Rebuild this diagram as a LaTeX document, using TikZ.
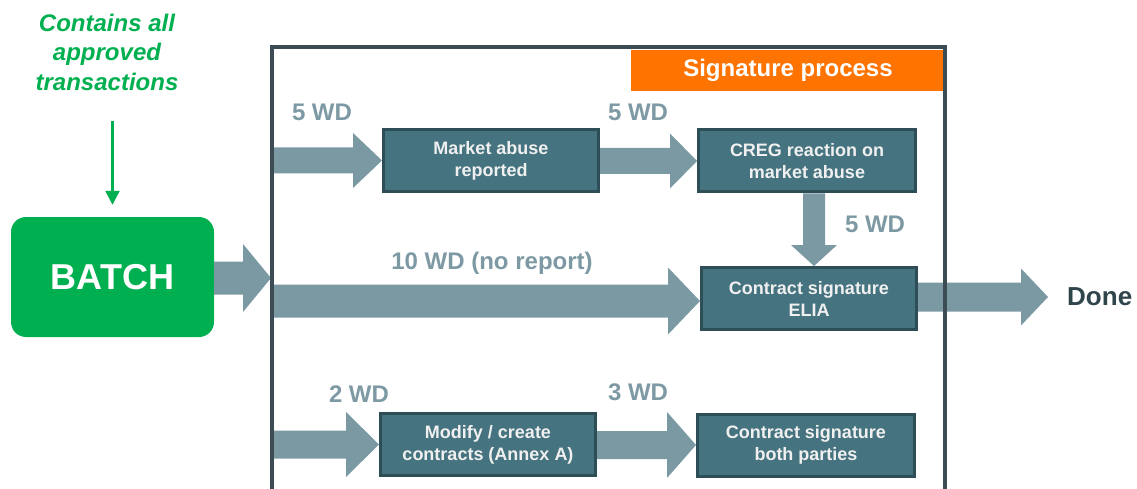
\documentclass[tikz,border=0pt]{standalone}
\usepackage{fontspec}
\setmainfont{Liberation Sans}
\usetikzlibrary{calc,arrows.meta}

\definecolor{okgreen}{RGB}{0,176,80}
\definecolor{flowgray}{RGB}{123,153,163}
\definecolor{labgray}{RGB}{125,153,164}
\definecolor{boxfill}{RGB}{69,115,127}
\definecolor{boxline}{RGB}{46,78,87}
\definecolor{framecol}{RGB}{59,76,84}
\definecolor{orangebar}{RGB}{255,115,0}
\definecolor{donecol}{RGB}{47,68,75}

% horizontal block arrow: start, end, shaft half-height, head half-height, head length
\newcommand\harrow[5]{%
  \fill[flowgray] let \p1=(#1), \p2=(#2) in
    (\x1,\y2+#3) -- (\x2-#5,\y2+#3) -- (\x2-#5,\y2+#4) -- (\x2,\y2)
    -- (\x2-#5,\y2-#4) -- (\x2-#5,\y2-#3) -- (\x1,\y2-#3) -- cycle;}
% vertical (downward) block arrow, same arguments
\newcommand\varrow[5]{%
  \fill[flowgray] let \p1=(#1), \p2=(#2) in
    (\x1-#3,\y1) -- (\x1-#3,\y2+#5) -- (\x1-#4,\y2+#5) -- (\x1,\y2)
    -- (\x1+#4,\y2+#5) -- (\x1+#3,\y2+#5) -- (\x1+#3,\y1) -- cycle;}

\tikzset{
  stepbox/.style={draw=boxline, fill=boxfill, line width=3pt,
    minimum width=215pt, minimum height=62pt, inner sep=0pt,
    align=center, text=white!94!black,
    font=\bfseries\fontsize{18}{22}\selectfont},
  wdlabel/.style={text=labgray, inner sep=0pt,
    font=\bfseries\fontsize{24}{28}\selectfont},
}

\begin{document}
\begin{tikzpicture}[x=1pt, y=-1pt]
\useasboundingbox (0,0) rectangle (1137,489);

% note and batch box
\node[text=okgreen, align=center, inner sep=0pt,
      font=\bfseries\itshape\fontsize{24}{29.5}\selectfont]
  (note) at (107,52) {Contains all\\approved\\transactions};
\node[fill=okgreen, rounded corners=15pt, minimum width=203pt,
      minimum height=120pt, inner sep=0pt, text=white,
      font=\bfseries\fontsize{36}{40}\selectfont]
  (batch) at (112.5,277) {BATCH};
\draw[okgreen, line width=2.5pt, -{Triangle[length=14pt,width=14pt]},
      shorten <=30pt, shorten >=12pt]
  (note.south -| batch.north) -- (batch.north);

% process steps
\node[stepbox] (market) at (491,160.5) {Market abuse\\reported};
\node[stepbox, minimum width=217pt] (creg) at (807,161) {CREG reaction on\\market abuse};
\node[stepbox] (elia) at (809,298.5) {Contract signature\\ELIA};
\node[stepbox] (modify) at (488,444.5) {Modify / create\\contracts (Annex A)};
\node[stepbox, minimum width=217pt] (both) at (806,445) {Contract signature\\both parties};

\node[text=donecol, inner sep=0pt, anchor=west,
      font=\bfseries\fontsize{26}{30}\selectfont] (done) at (1067,297) {Done};

% entry points on the left side of the frame
\coordinate (gate) at (271,278);
\coordinate (in1) at (272,160);
\coordinate (in2) at (272,301);
\coordinate (in3) at (272,444);

% flows
\harrow{batch.east}{gate}{16.5pt}{34pt}{28pt}
\harrow{in1}{market.west}{13pt}{27.5pt}{29pt}
\harrow{market.east}{creg.west}{13pt}{27.5pt}{27pt}
\harrow{in2}{elia.west |- in2}{16.5pt}{33.5pt}{32pt}
\varrow{[xshift=7pt]creg.south}{[xshift=7pt]elia.north}{11pt}{23pt}{21pt}
\harrow{elia.east}{[xshift=-19pt]done.west}{14.5pt}{28.5pt}{27pt}
\harrow{in3}{modify.west}{14pt}{32.5pt}{33pt}
\harrow{modify.east}{both.west}{14pt}{33pt}{29pt}

% redraw boxes above the flows
\node[stepbox] at (market) {Market abuse\\reported};
\node[stepbox, minimum width=217pt] at (creg) {CREG reaction on\\market abuse};
\node[stepbox] at (elia) {Contract signature\\ELIA};
\node[stepbox] at (modify) {Modify / create\\contracts (Annex A)};
\node[stepbox, minimum width=217pt] at (both) {Contract signature\\both parties};

% durations
\node[wdlabel] (d1) at (322,112) {5 WD};
\node[wdlabel] (d2) at (638,112) {5 WD};
\node[wdlabel] (d3) at (875,224) {5 WD};
\node[wdlabel] (d4) at (492,263) {10 WD (no report)};
\node[wdlabel] (d5) at (359,394) {2 WD};
\node[wdlabel] (d6) at (638,392) {3 WD};

% signature process frame and its title bar
\fill[orangebar] (631,50) rectangle (943,91);
\node[text=white, font=\bfseries\fontsize{24}{28}\selectfont] (title) at (788,70) {Signature process};
\draw[framecol, line width=3.5pt, line join=miter]
  (272,489) -- (272,47) -- (945,47) -- (945,489);
\end{tikzpicture}
\end{document}
